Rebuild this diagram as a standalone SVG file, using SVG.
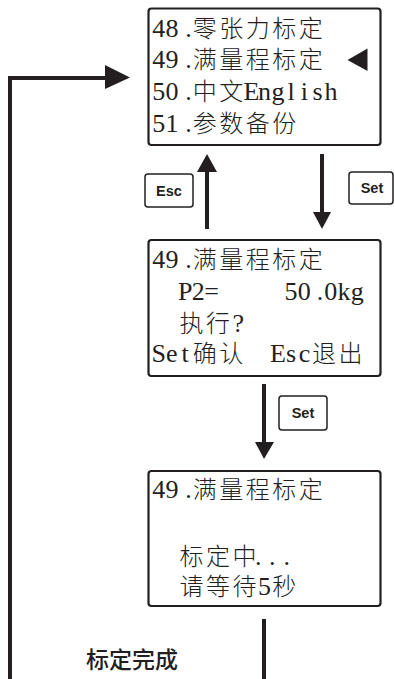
<svg xmlns="http://www.w3.org/2000/svg" width="394" height="679" viewBox="0 0 394 679">
<style>
.box{fill:#fff;stroke:#231f20;stroke-width:2.2}
.btn{fill:#fff;stroke:#231f20;stroke-width:1.5}
.btxt{font-family:"Liberation Sans",Arial,sans-serif;font-weight:bold;font-size:14.5px;fill:#231f20;text-anchor:middle}
tspan.lat{font-family:"Liberation Serif","Times New Roman",serif;font-size:26px;font-weight:normal;fill:#231f20}
tspan.cjk{font-family:"Noto Sans CJK SC",sans-serif;font-size:24px;font-weight:300;fill:#231f20}
text.scr{font-family:"Liberation Serif","Noto Sans CJK SC",serif;font-size:26px;fill:#231f20}
.line{stroke:#231f20;stroke-width:4;fill:none}
.head{fill:#231f20}
.lbl{font-family:"Noto Sans CJK SC",sans-serif;font-size:23px;font-weight:500;fill:#231f20}
</style>
<rect width="394" height="679" fill="#fff"/>

<g id="connectors">
  <polyline class="line" points="10,679 10,78 106,78"/>
  <polygon class="head" points="105,65 130,77.5 105,89"/>
  <line class="line" x1="207" y1="229" x2="207" y2="170"/>
  <polygon class="head" points="197,172 207,154 217,172"/>
  <line class="line" x1="322" y1="154" x2="322" y2="214"/>
  <polygon class="head" points="313,212 322,229 331,212"/>
  <line class="line" x1="264" y1="384" x2="264" y2="444"/>
  <polygon class="head" points="255,442 264,459 274,442"/>
  <line class="line" x1="264" y1="619" x2="264" y2="679"/>
</g>

<g id="btn-esc">
  <rect class="btn" x="145" y="174" width="48" height="33" rx="3"/>
  <text class="btxt" x="169" y="196">Esc</text>
</g>
<g id="btn-set1">
  <rect class="btn" x="349" y="172" width="44" height="32" rx="3"/>
  <text class="btxt" x="372" y="193">Set</text>
</g>
<g id="btn-set2">
  <rect class="btn" x="279" y="396" width="48" height="34" rx="3"/>
  <text class="btxt" x="303" y="418">Set</text>
</g>

<g id="menu">
  <rect class="box" x="148.5" y="8.5" width="232" height="136.5" rx="3"/>
  <text class="scr" y="37"><tspan class="lat" x="152.2 165.4 185.3">48.</tspan><tspan class="cjk" x="192.75 219.25 245.75 272.25 298.75">零张力标定</tspan></text>
  <text class="scr" y="68"><tspan class="lat" x="152.2 165.4 185.3">49.</tspan><tspan class="cjk" x="192.75 219.25 245.75 272.25 298.75">满量程标定</tspan></text>
  <polygon class="head" points="347.5,60 367.5,48.5 367.5,71"/>
  <text class="scr" y="100"><tspan class="lat" x="152.2 165.4 185.3">50.</tspan><tspan class="cjk" x="192.75 219.25">中文</tspan><tspan class="lat" x="243.4 258.1 271.4 287.5 300.75 312.6 324.4">English</tspan></text>
  <text class="scr" y="132"><tspan class="lat" x="152.2 165.4 185.3">51.</tspan><tspan class="cjk" x="192.75 219.25 245.75 272.25">参数备份</tspan></text>
</g>

<g id="confirm">
  <rect class="box" x="148.5" y="240" width="232" height="136" rx="3"/>
  <text class="scr" y="268"><tspan class="lat" x="152.2 165.4 185.3">49.</tspan><tspan class="cjk" x="192.75 219.25 245.75 272.25 298.75">满量程标定</tspan></text>
  <text class="scr" y="300"><tspan class="lat" x="177.9 191.85 204.3">P2=</tspan><tspan class="lat" x="284.6 297.85 316.7 324.35 337.6 350.85">50.0kg</tspan></text>
  <text class="scr" y="332"><tspan class="cjk" x="179.5 206">执行</tspan><tspan class="lat" x="232.4">?</tspan></text>
  <text class="scr" y="362"><tspan class="lat" x="151.4 166.1 181.5">Set</tspan><tspan class="cjk" x="192.75 219.25">确认</tspan><tspan class="lat" x="269.95 286.1 298.65">Esc</tspan><tspan class="cjk" x="312 338.5">退出</tspan></text>
</g>

<g id="calibrating">
  <rect class="box" x="148.5" y="471" width="232" height="135" rx="3"/>
  <text class="scr" y="498"><tspan class="lat" x="152.2 165.4 185.3">49.</tspan><tspan class="cjk" x="192.75 219.25 245.75 272.25 298.75">满量程标定</tspan></text>
  <text class="scr" y="565"><tspan class="cjk" x="179.5 206 232.5">标定中</tspan><tspan class="lat" x="255 269 283.5">...</tspan></text>
  <text class="scr" y="595"><tspan class="cjk" x="179.5 206 232.5">请等待</tspan><tspan class="lat" x="258.1">5</tspan><tspan class="cjk" x="272.25">秒</tspan></text>
</g>

<g id="label-done">
  <text class="lbl" x="86" y="668">标定完成</text>
</g>
</svg>
